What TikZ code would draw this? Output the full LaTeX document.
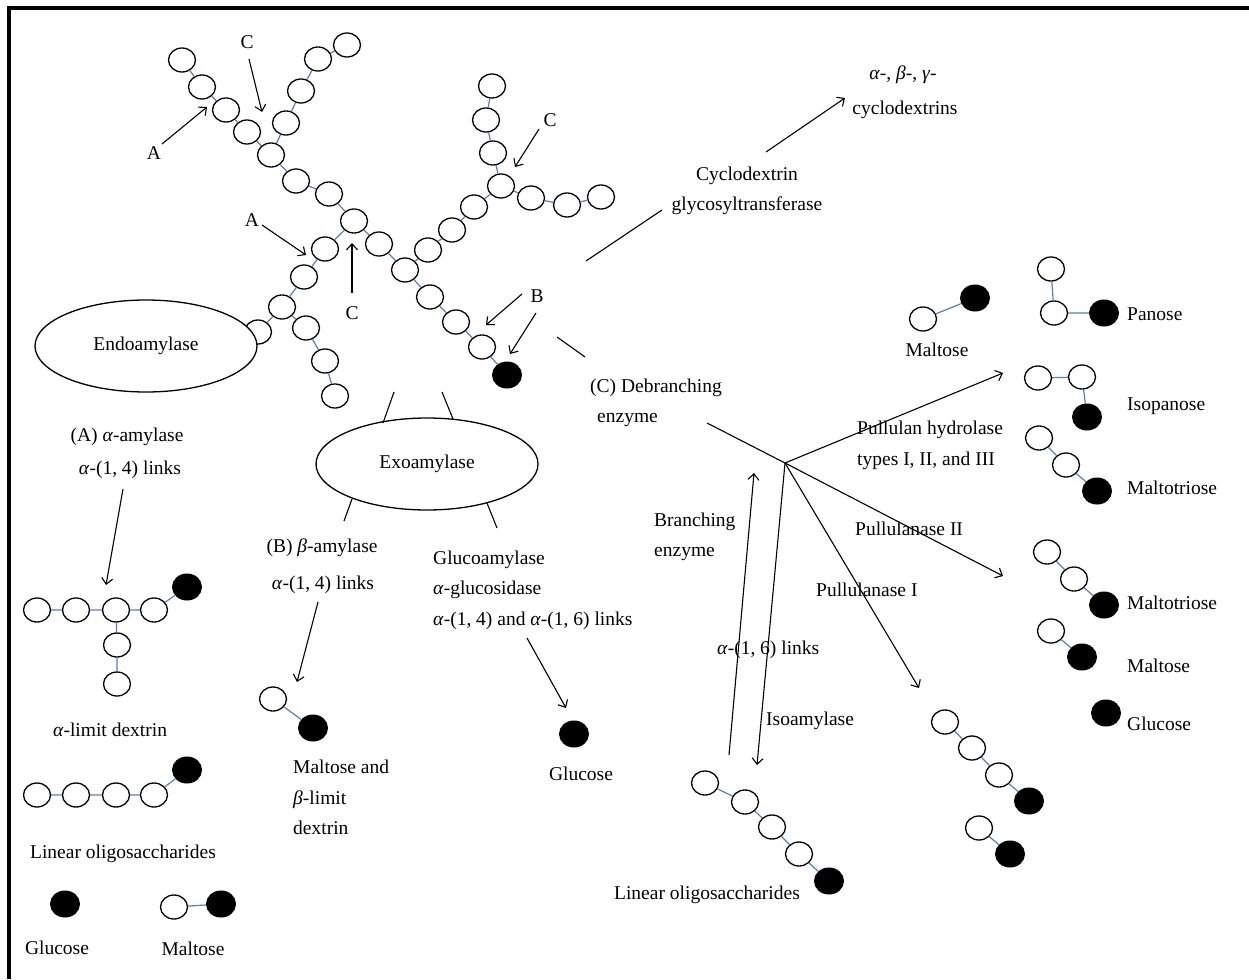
\documentclass[tikz,border=0pt]{standalone}
\usepackage{fontspec}
\setmainfont{Liberation Serif}
\usetikzlibrary{shapes.geometric,arrows.meta}
\definecolor{linkblue}{RGB}{79,129,189}
\begin{document}
\begin{tikzpicture}[x=1pt,y=-1pt,
 oc/.style={ellipse,draw=black,line width=1.3pt,fill=white,minimum width=27pt,minimum height=24pt,inner sep=0pt},
 fc/.style={ellipse,draw=black,fill=black,line width=1pt,minimum width=29pt,minimum height=26pt,inner sep=0pt},
 lk/.style={draw=linkblue,line width=1.2pt},
 ar/.style={draw=black,line width=1.1pt,-{Straight Barb[length=6pt,width=11pt]}},
 ln/.style={draw=black,line width=1.1pt},
 lb/.style={font=\fontsize{19.5}{23}\selectfont,inner sep=0pt,anchor=base},
 lbw/.style={lb,anchor=base west},
 enz/.style={ellipse,draw=black,line width=1.3pt,fill=white,minimum width=222pt,minimum height=92pt,inner sep=0pt,font=\fontsize{19.5}{23}\selectfont}
]
\useasboundingbox (0,0) rectangle (1249,979);
% frame
\draw[line width=4pt] (9,979) -- (9,8) -- (1249,8);

% ---------- main tree ----------
\node[oc] (t1) at (182,60) {};
\node[oc] (t2) at (202,87) {};
\node[oc] (t3) at (226,110) {};
\node[oc] (t4) at (247,132) {};
\node[oc] (t5) at (271,155) {};
\node[oc] (t6) at (296,181) {};
\node[oc] (t7) at (329,194) {};
\node[oc] (t8) at (354,221) {};
\node[oc] (t9) at (379,244) {};
\node[oc] (t10) at (405,270) {};
\node[oc] (t11) at (430,297) {};
\node[oc] (t12) at (456,322) {};
\node[oc] (t13) at (482,347) {};
\node[fc] (t14) at (507,375) {};
\node[oc] (u1) at (286,123) {};
\node[oc] (u2) at (301,91) {};
\node[oc] (u3) at (318,59) {};
\node[oc] (u4) at (347,45) {};
\node[oc] (l1) at (325,249) {};
\node[oc] (l2) at (304,277) {};
\node[oc] (l3) at (282,307) {};
\node[oc] (l4) at (258,332) {};
\node[oc] (d1) at (306,328) {};
\node[oc] (d2) at (325,361) {};
\node[oc] (d3) at (335,396) {};
\node[oc] (r1) at (428,250) {};
\node[oc] (r2) at (452,230) {};
\node[oc] (r3) at (474,207) {};
\node[oc] (r4) at (501,186) {};
\node[oc] (v1) at (493,153) {};
\node[oc] (v2) at (486,120) {};
\node[oc] (v3) at (492,86) {};
\node[oc] (w1) at (531,198) {};
\node[oc] (w2) at (567,205) {};
\node[oc] (w3) at (601,197) {};
\draw[lk] (t1)--(t2) (t2)--(t3) (t3)--(t4) (t4)--(t5) (t5)--(t6) (t6)--(t7) (t7)--(t8) (t8)--(t9) (t9)--(t10) (t10)--(t11) (t11)--(t12) (t12)--(t13) (t13)--(t14);
\draw[lk] (t5)--(u1) (u1)--(u2) (u2)--(u3) (u3)--(u4);
\draw[lk] (t8)--(l1) (l1)--(l2) (l2)--(l3) (l3)--(l4) (l3)--(d1) (d1)--(d2) (d2)--(d3);
\draw[lk] (t10)--(r1) (r1)--(r2) (r2)--(r3) (r3)--(r4) (r4)--(v1) (v1)--(v2) (v2)--(v3) (r4)--(w1) (w1)--(w2) (w2)--(w3);

\node[enz] (endo) at (146,346) {Endoamylase};
\node[enz] (exo) at (427,464) {Exoamylase};

% letters and arrows on tree
\node[lb] (lA1) at (154,159) {A};
\node[lb] (lC1) at (247,49) {C};
\node[lb] (lA2) at (252,226) {A};
\node[lb] (lC2) at (352,319) {C};
\node[lb] (lC3) at (550,127) {C};
\node[lb] (lB) at (537,302) {B};
\coordinate (a1s) at (162,144); \coordinate (a1e) at (207,107);
\coordinate (c1s) at (249,59);  \coordinate (c1e) at (262,112);
\coordinate (a2s) at (262,225); \coordinate (a2e) at (306,255);
\coordinate (c2s) at (352,293); \coordinate (c2e) at (352,243);
\coordinate (c3s) at (539,129); \coordinate (c3e) at (515,167);
\coordinate (b1s) at (522,294); \coordinate (b1e) at (486,325);
\coordinate (b2s) at (536,313); \coordinate (b2e) at (510,354);
\draw[ar] (a1s) -- (a1e);
\draw[ar] (c1s) -- (c1e);
\draw[ar] (a2s) -- (a2e);
\draw[ar] (c2s) -- (c2e);
\draw[ar] (c3s) -- (c3e);
\draw[ar] (b1s) -- (b1e);
\draw[ar] (b2s) -- (b2e);

% ---------- cyclodextrin ----------
\node[lb] (cd1) at (903,80) {\textit{α}-, \textit{β}-, \textit{γ}-};
\node[lb] (cd2) at (905,114) {cyclodextrins};
\node[lb] (cg1) at (747,180) {Cyclodextrin};
\node[lb] (cg2) at (747,210) {glycosyltransferase};
\coordinate (cy1) at (586,261); \coordinate (cy2) at (662,210);
\coordinate (cy3) at (766,152); \coordinate (cy4) at (845,98);
\draw[ln] (cy1) -- (cy2);
\draw[ar] (cy3) -- (cy4);

% ---------- debranching ----------
\node[lbw] (deb1) at (590,392) {(C) Debranching};
\node[lbw] (deb2) at (597,422) {enzyme};
\coordinate (db1) at (557,337); \coordinate (db2) at (585,357);
\coordinate (db3) at (707,423); \coordinate (hub) at (785,463);
\draw[ln] (db1) -- (db2);
\draw[ln] (db3) -- (hub);
\coordinate (e1) at (1003,373);
\coordinate (e2) at (1003,576);
\coordinate (e3) at (919,688);
\coordinate (e4) at (757,765);
\coordinate (bes) at (729,755); \coordinate (bee) at (754,473);
\draw[ar] (hub) -- (e1);
\draw[ar] (hub) -- (e2);
\draw[ar] (hub) -- (e3);
\draw[ar] (hub) -- (e4);
\draw[ar] (bes) -- (bee);

\node[lbw] (ph1) at (857,434) {Pullulan hydrolase};
\node[lbw] (ph2) at (857,465) {types I, II, and III};
\node[lbw] (p2) at (855,535) {Pullulanase II};
\node[lbw] (p1) at (816,596) {Pullulanase I};
\node[lbw] (br1) at (654,526) {Branching};
\node[lbw] (br2) at (654,556) {enzyme};
\node[lbw] (l16) at (717,654) {\textit{α}-(1, 6) links};
\node[lbw] (iso) at (766,725) {Isoamylase};

% products top right
\node[oc] (m1a) at (923,319) {};
\node[fc] (m1b) at (975,298) {};
\draw[lk] (m1a) -- (m1b);
\node[lb] (m1t) at (937,356) {Maltose};
\node[oc] (pa1) at (1051,269) {};
\node[oc] (pa2) at (1054,313) {};
\node[fc] (pa3) at (1104,313) {};
\draw[lk] (pa1) -- (pa2) (pa2) -- (pa3);
\node[lbw] (pat) at (1127,320) {Panose};
\node[oc] (ip1) at (1038,378) {};
\node[oc] (ip2) at (1082,377) {};
\node[fc] (ip3) at (1087,417) {};
\draw[lk] (ip1) -- (ip2) (ip2) -- (ip3);
\node[lbw] (ipt) at (1127,410) {Isopanose};
\node[oc] (mt1) at (1039,438) {};
\node[oc] (mt2) at (1066,465) {};
\node[fc] (mt3) at (1097,491) {};
\draw[lk] (mt1) -- (mt2) (mt2) -- (mt3);
\node[lbw] (mtt) at (1127,494) {Maltotriose};

\node[oc] (mu1) at (1047,552) {};
\node[oc] (mu2) at (1074,579) {};
\node[fc] (mu3) at (1104,605) {};
\draw[lk] (mu1) -- (mu2) (mu2) -- (mu3);
\node[lbw] (mut) at (1127,609) {Maltotriose};
\node[oc] (ms1) at (1051,631) {};
\node[fc] (ms2) at (1082,657) {};
\draw[lk] (ms1) -- (ms2);
\node[lbw] (mst) at (1127,672) {Maltose};
\node[fc] (gl1) at (1106,713) {};
\node[lbw] (glt) at (1127,730) {Glucose};

\node[oc] (q1) at (945,722) {};
\node[oc] (q2) at (972,748) {};
\node[oc] (q3) at (999,775) {};
\node[fc] (q4) at (1029,801) {};
\draw[lk] (q1) -- (q2) (q2) -- (q3) (q3) -- (q4);
\node[oc] (q5) at (979,828) {};
\node[fc] (q6) at (1010,854) {};
\draw[lk] (q5) -- (q6);

% linear oligosaccharides (middle)
\node[oc] (o1) at (705,783) {};
\node[oc] (o2) at (745,802) {};
\node[oc] (o3) at (772,827) {};
\node[oc] (o4) at (799,854) {};
\node[fc] (o5) at (829,881) {};
\draw[lk] (o1) -- (o2) (o2) -- (o3) (o3) -- (o4) (o4) -- (o5);
\node[lb] (ot) at (707,899) {Linear oligosaccharides};

% ---------- endoamylase products ----------
\node[lb] (aa1) at (127,441) {(A) \textit{α}-amylase};
\node[lb] (aa2) at (130,474) {\textit{α}-(1, 4) links};
\coordinate (aas) at (123,489); \coordinate (aae) at (106,585);
\draw[ar] (aas) -- (aae);
\node[oc] (x1) at (37,610) {};
\node[oc] (x2) at (76,610) {};
\node[oc] (x3) at (116,610) {};
\node[oc] (x4) at (154,610) {};
\node[fc] (x5) at (187,587) {};
\node[oc] (x6) at (117,645) {};
\node[oc] (x7) at (117,684) {};
\draw[lk] (x1) -- (x2) (x2) -- (x3) (x3) -- (x4) (x4) -- (x5) (x3) -- (x6) (x6) -- (x7);
\node[lb] (xt) at (110,736) {\textit{α}-limit dextrin};
\node[oc] (y1) at (37,795) {};
\node[oc] (y2) at (76,795) {};
\node[oc] (y3) at (116,795) {};
\node[oc] (y4) at (154,795) {};
\node[fc] (y5) at (187,770) {};
\draw[lk] (y1) -- (y2) (y2) -- (y3) (y3) -- (y4) (y4) -- (y5);
\node[lb] (yt) at (123,858) {Linear oligosaccharides};
\node[fc] (g0) at (65,904) {};
\node[lb] (g0t) at (57,954) {Glucose};
\node[oc] (mz1) at (174,907) {};
\node[fc] (mz2) at (221,904) {};
\draw[lk] (mz1) -- (mz2);
\node[lb] (mzt) at (193,955) {Maltose};

% ---------- exoamylase ----------
\coordinate (ex1) at (394,392); \coordinate (ex2) at (383,423);
\coordinate (ex3) at (442,392); \coordinate (ex4) at (453,419);
\coordinate (ex5) at (352,499); \coordinate (ex6) at (344,521);
\coordinate (ex7) at (487,503); \coordinate (ex8) at (497,528);
\draw[ln] (ex1) -- (ex2);
\draw[ln] (ex3) -- (ex4);
\draw[ln] (ex5) -- (ex6);
\draw[ln] (ex7) -- (ex8);
\node[lb] (ba1) at (322,552) {(B) \textit{β}-amylase};
\node[lb] (ba2) at (323,589) {\textit{α}-(1, 4) links};
\coordinate (bas) at (318,602); \coordinate (bae) at (297,682);
\draw[ar] (bas) -- (bae);
\node[oc] (bm1) at (273,699) {};
\node[fc] (bm2) at (313,728) {};
\draw[lk] (bm1) -- (bm2);
\node[lbw] (bt1) at (293,773) {Maltose and};
\node[lbw] (bt2) at (293,804) {\textit{β}-limit};
\node[lbw] (bt3) at (293,834) {dextrin};
\node[lbw] (ga1) at (433,564) {Glucoamylase};
\node[lbw] (ga2) at (433,594) {\textit{α}-glucosidase};
\node[lbw] (ga3) at (433,625) {\textit{α}-(1, 4) and \textit{α}-(1, 6) links};
\coordinate (gas) at (527,638); \coordinate (gae) at (566,708);
\draw[ar] (gas) -- (gae);
\node[fc] (g2) at (574,734) {};
\node[lb] (g2t) at (581,780) {Glucose};
\end{tikzpicture}
\end{document}
